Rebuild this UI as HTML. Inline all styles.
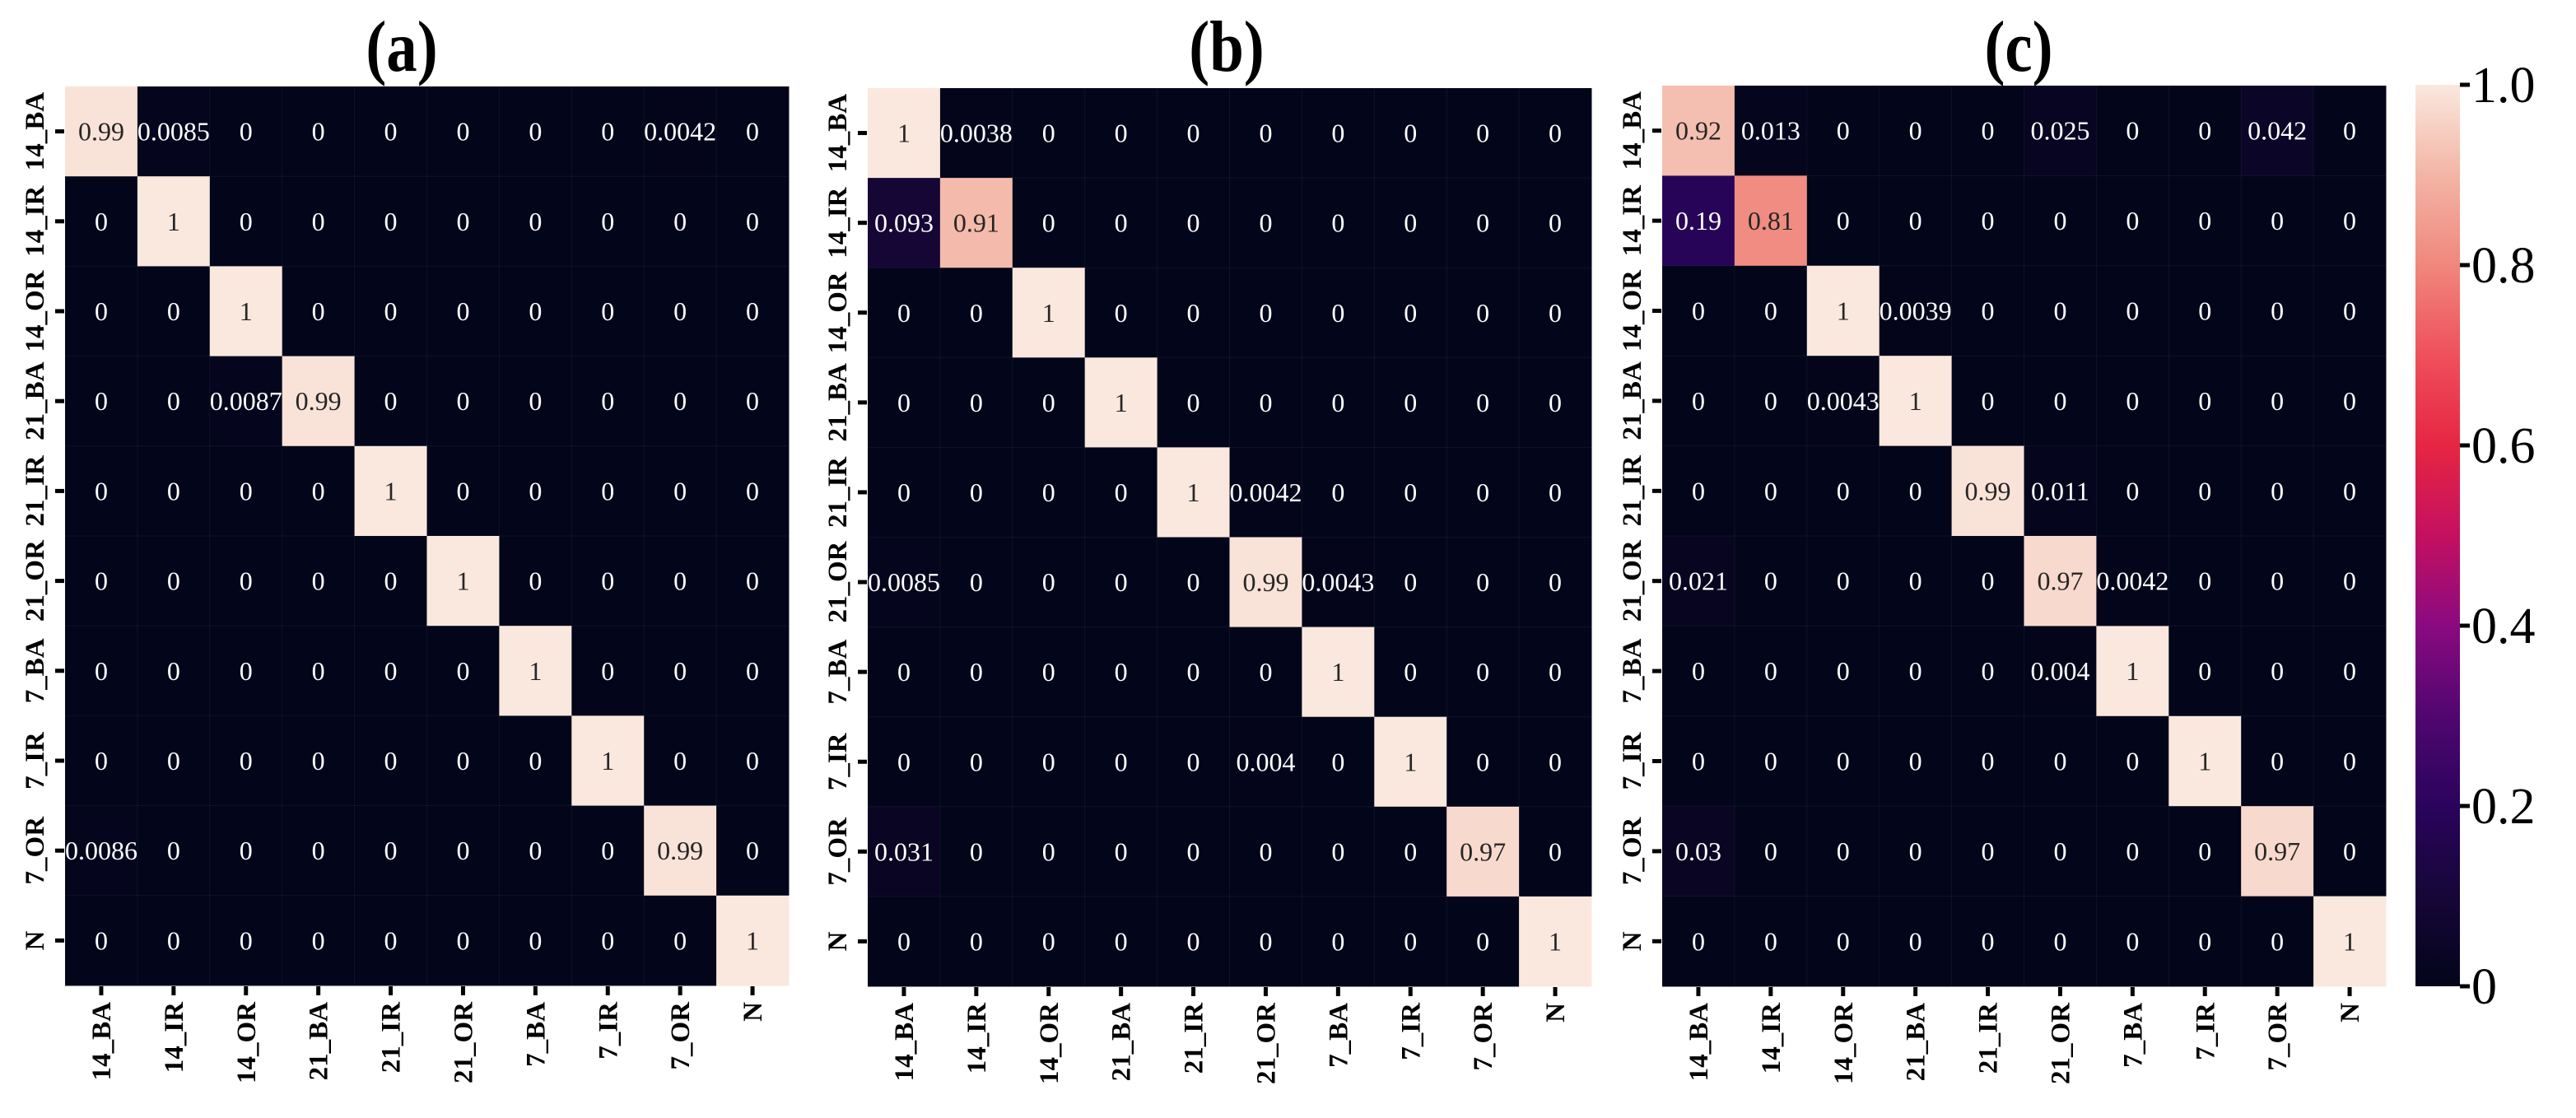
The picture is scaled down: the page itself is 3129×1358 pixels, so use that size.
<!DOCTYPE html>
<html><head><meta charset="utf-8"><style>
html,body{margin:0;padding:0;background:#fff;}
svg{display:block;}
text{font-family:"Liberation Serif","Times New Roman",serif;}
</style></head><body>
<svg id="fig" width="3129" height="1358" viewBox="0 0 3129 1358" xmlns="http://www.w3.org/2000/svg"></svg>
<script>
const labels = ["14_BA","14_IR","14_OR","21_BA","21_IR","21_OR","7_BA","7_IR","7_OR","N"];
const matrixA = [
 [0.99,0.0085,0,0,0,0,0,0,0.0042,0],
 [0,1,0,0,0,0,0,0,0,0],
 [0,0,1,0,0,0,0,0,0,0],
 [0,0,0.0087,0.99,0,0,0,0,0,0],
 [0,0,0,0,1,0,0,0,0,0],
 [0,0,0,0,0,1,0,0,0,0],
 [0,0,0,0,0,0,1,0,0,0],
 [0,0,0,0,0,0,0,1,0,0],
 [0.0086,0,0,0,0,0,0,0,0.99,0],
 [0,0,0,0,0,0,0,0,0,1]
];
const matrixB = [
 [1,0.0038,0,0,0,0,0,0,0,0],
 [0.093,0.91,0,0,0,0,0,0,0,0],
 [0,0,1,0,0,0,0,0,0,0],
 [0,0,0,1,0,0,0,0,0,0],
 [0,0,0,0,1,0.0042,0,0,0,0],
 [0.0085,0,0,0,0,0.99,0.0043,0,0,0],
 [0,0,0,0,0,0,1,0,0,0],
 [0,0,0,0,0,0.004,0,1,0,0],
 [0.031,0,0,0,0,0,0,0,0.97,0],
 [0,0,0,0,0,0,0,0,0,1]
];
const matrixC = [
 [0.92,0.013,0,0,0,0.025,0,0,0.042,0],
 [0.19,0.81,0,0,0,0,0,0,0,0],
 [0,0,1,0.0039,0,0,0,0,0,0],
 [0,0,0.0043,1,0,0,0,0,0,0],
 [0,0,0,0,0.99,0.011,0,0,0,0],
 [0.021,0,0,0,0,0.97,0.0042,0,0,0],
 [0,0,0,0,0,0.004,1,0,0,0],
 [0,0,0,0,0,0,0,1,0,0],
 [0.03,0,0,0,0,0,0,0,0.97,0],
 [0,0,0,0,0,0,0,0,0,1]
];
const panelTitles = ["(a)","(b)","(c)"];
const cbTicks = [0,0.2,0.4,0.6,0.8,1.0];
const cbTickLabels = ["0","0.2","0.4","0.6","0.8","1.0"];

const NS = "http://www.w3.org/2000/svg";
const svg = document.getElementById("fig");
const cmapStops = [
 [0.0,[3,5,26]],[0.1,[22,6,56]],[0.2,[42,4,92]],[0.3,[80,6,112]],[0.4,[138,10,128]],
 [0.5,[196,16,96]],[0.6,[230,38,66]],[0.7,[239,80,92]],[0.8,[240,135,125]],[0.9,[243,181,165]],[1.0,[250,232,222]]
];
function cmap(v){
  v=Math.max(0,Math.min(1,v));
  for(let i=1;i<cmapStops.length;i++){
    const [p1,c1]=cmapStops[i-1],[p2,c2]=cmapStops[i];
    if(v<=p2){const t=(v-p1)/(p2-p1);
      return "rgb("+c1.map((c,k)=>Math.round(c+(c2[k]-c)*t)).join(",")+")";}
  }
  return "rgb(250,232,222)";
}
function el(tag,attrs){const e=document.createElementNS(NS,tag);for(const k in attrs)e.setAttribute(k,attrs[k]);return e;}

const panels=[
 {m:matrixA,left:79,top:105,w:879,h:1092,titleX:488},
 {m:matrixB,left:1054,top:107,w:879,h:1091,titleX:1490},
 {m:matrixC,left:2019,top:104,w:879,h:1094,titleX:2452}
];
panels.forEach((p,pi)=>{
  const g=el("g",{});
  
  
  svg.appendChild(g);
  const cw=p.w/labels.length, ch=p.h/labels.length;
  const xs=i=>p.left+i*cw, ys=j=>p.top+j*ch;
  const t=el("text",{transform:"translate("+p.titleX+",86) scale(0.85,1)","text-anchor":"middle","font-size":"88","font-weight":"bold",fill:"#000"});
  t.textContent=panelTitles[pi];
  
  
  g.appendChild(t);
  p.m.forEach((row,j)=>row.forEach((v,i)=>{
    const r=el("rect",{x:xs(i),y:ys(j),width:cw+0.5,height:ch+0.5,fill:cmap(v),stroke:"rgba(255,255,255,0.05)","stroke-width":"1"});
    
    
    g.appendChild(r);
    const tx=el("text",{x:xs(i)+cw/2,y:ys(j)+ch/2+11,"text-anchor":"middle","font-size":"32",fill:v>0.5?"#262626":"#ffffff"});
    tx.textContent=String(v);
    
    
    g.appendChild(tx);
  }));
  labels.forEach((lab,j)=>{
    const cy=ys(j)+ch/2;
    const tk=el("rect",{x:p.left-12,y:cy-2.5,width:11,height:5,fill:"#000"});
    
    
    g.appendChild(tk);
    const yl=el("text",{transform:"translate("+(p.left-26)+","+cy+") rotate(-90)","text-anchor":"middle","font-size":"33","font-weight":"bold",fill:"#000"});
    yl.textContent=lab;
    
    
    g.appendChild(yl);
  });
  const bottom=p.top+p.h;
  labels.forEach((lab,i)=>{
    const cx=xs(i)+cw/2;
    const tk=el("rect",{x:cx-2.5,y:bottom+1,width:5,height:11,fill:"#000"});
    
    
    g.appendChild(tk);
    const xl=el("text",{transform:"translate("+(cx+11)+","+(bottom+20)+") rotate(-90)","text-anchor":"end","font-size":"33","font-weight":"bold",fill:"#000"});
    xl.textContent=lab;
    
    
    g.appendChild(xl);
  });
});

// colorbar
const cb={x:2934,y:103,w:54,h:1095};
const defs=el("defs",{});
const grad=el("linearGradient",{id:"cbg",x1:"0",y1:"1",x2:"0",y2:"0"});
cmapStops.forEach(([p,c])=>{grad.appendChild(el("stop",{offset:p,"stop-color":"rgb("+c.join(",")+")"}));});
defs.appendChild(grad);svg.appendChild(defs);
const cbg=el("g",{});


svg.appendChild(cbg);
const cbr=el("rect",{x:cb.x,y:cb.y,width:cb.w,height:cb.h,fill:"url(#cbg)"});


cbg.appendChild(cbr);
const cby=v=>cb.y+cb.h*(1-v);
cbTicks.forEach((v,k)=>{
  const tk=el("rect",{x:cb.x+cb.w,y:cby(v)-2.5,width:12,height:5,fill:"#000"});
  
  
  cbg.appendChild(tk);
  const tl=el("text",{x:cb.x+cb.w+14,y:cby(v)+21,"font-size":"62",fill:"#000"});
  tl.textContent=cbTickLabels[k];
  
  
  cbg.appendChild(tl);
});
</script>
</body></html>
